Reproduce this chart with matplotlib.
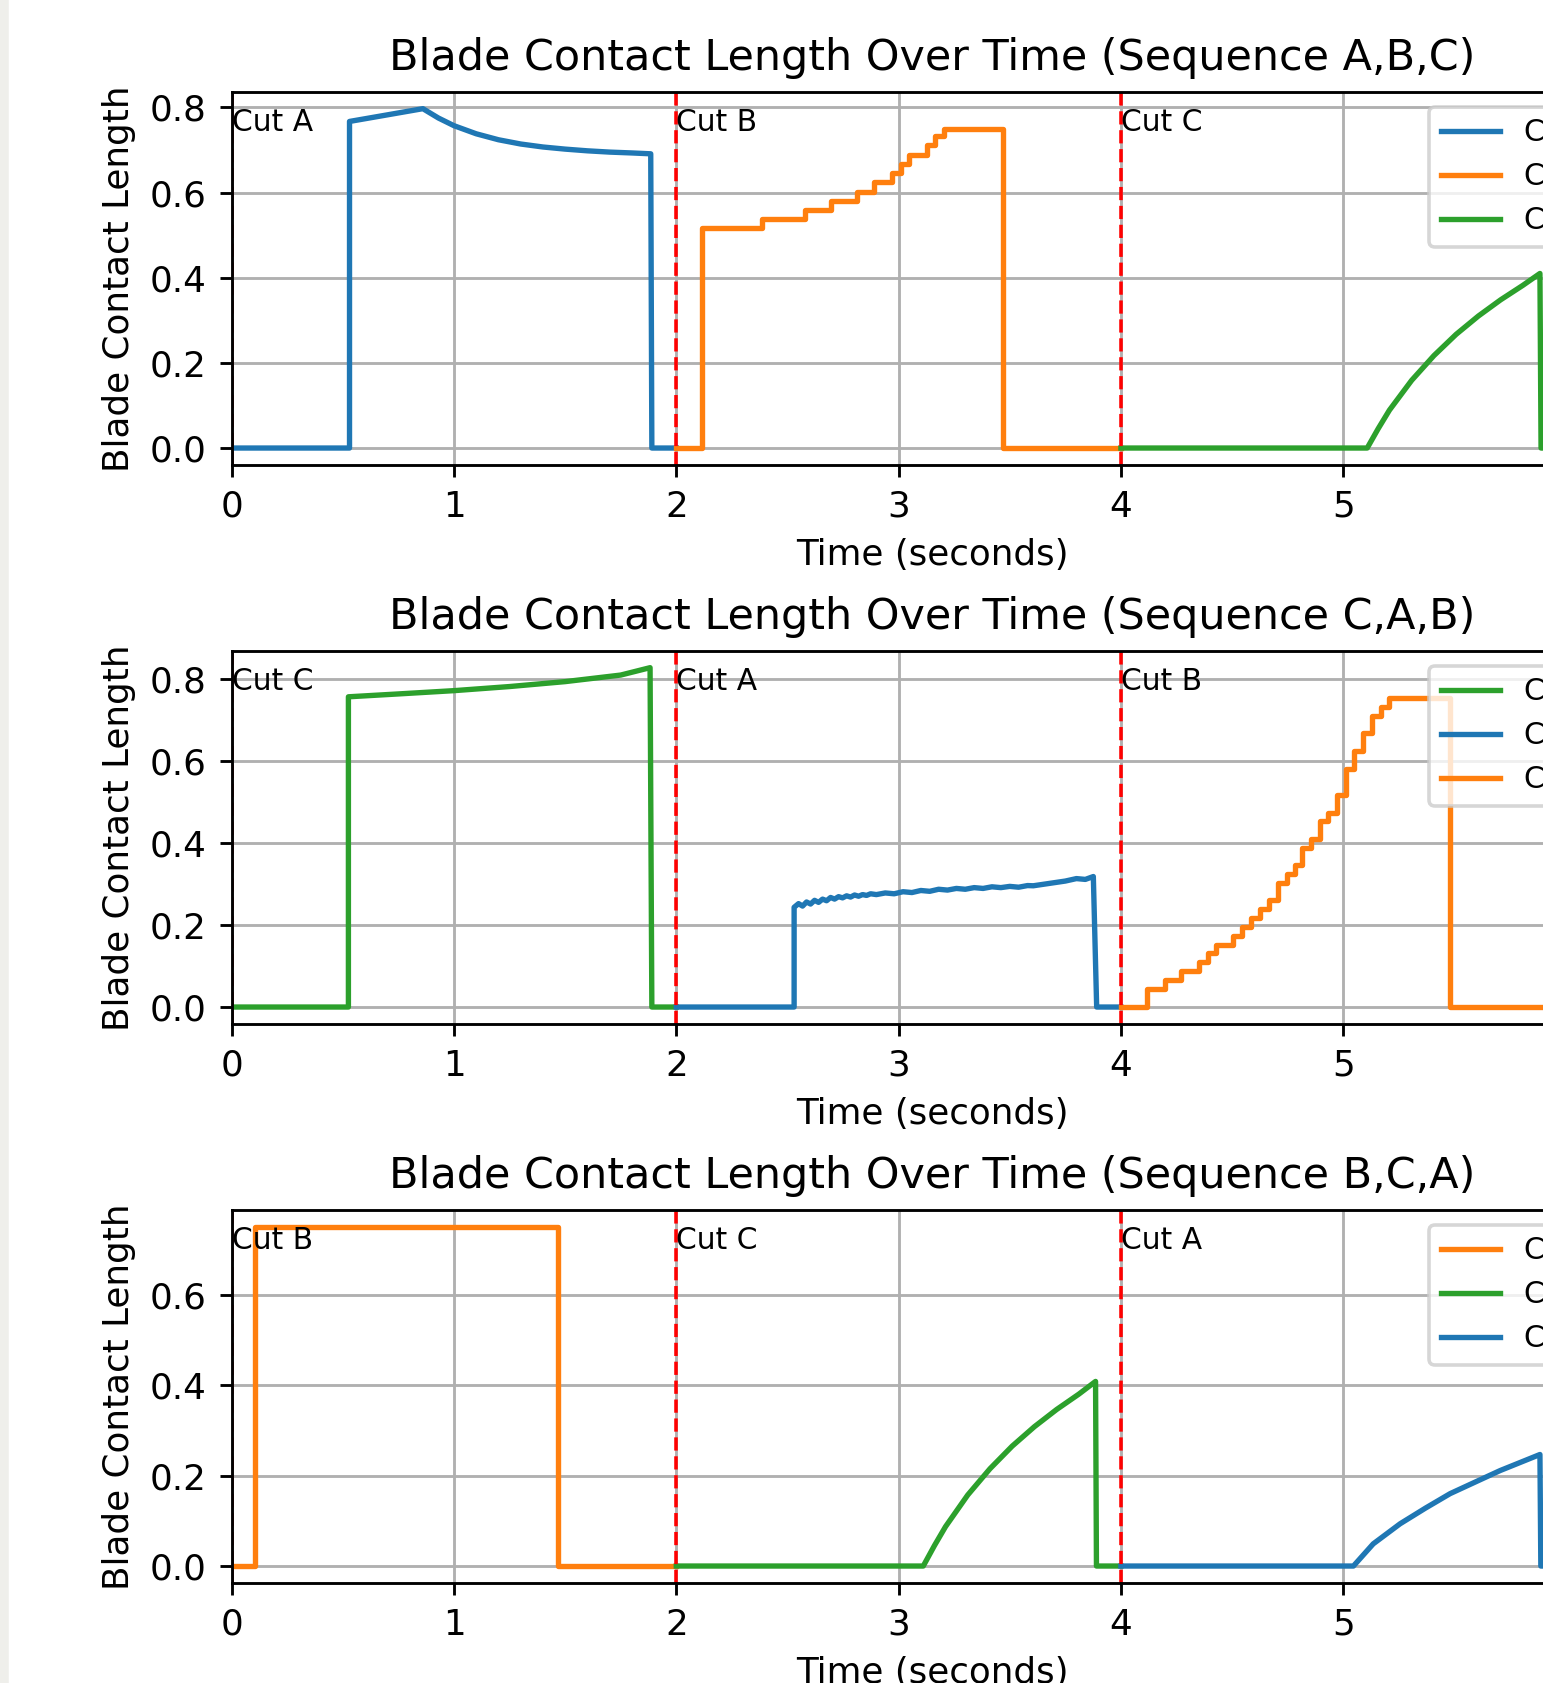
import matplotlib
matplotlib.use('Agg')
import matplotlib.pyplot as plt
from matplotlib.patches import Rectangle

# ---------------- data ----------------
titles = ["Blade Contact Length Over Time (Sequence A,B,C)",
          "Blade Contact Length Over Time (Sequence C,A,B)",
          "Blade Contact Length Over Time (Sequence B,C,A)"]
sequences = [["A", "B", "C"], ["C", "A", "B"], ["B", "C", "A"]]
cut_starts = [0.0, 2.0, 4.0]
x_ticks = [0, 1, 2, 3, 4, 5]
x_max = 6.3

# Panel 1 (A, B, C)
p1_A_t = [0.0, 0.53, 0.53, 0.86, 0.93, 1.0, 1.1, 1.2, 1.3, 1.4, 1.5, 1.6, 1.7, 1.8, 1.885, 1.89, 2.0]
p1_A_y = [0.0, 0.0, 0.767, 0.797, 0.775, 0.757, 0.738, 0.724, 0.714, 0.707, 0.702, 0.698, 0.695, 0.693, 0.691, 0.0, 0.0]
p1_B_t = [2.0, 2.114, 2.384, 2.579, 2.694, 2.814, 2.889, 2.972, 3.009, 3.048, 3.126, 3.164, 3.204, 3.471, 4.0]
p1_B_y = [0.0, 0.516, 0.537, 0.559, 0.581, 0.602, 0.624, 0.646, 0.668, 0.689, 0.711, 0.732, 0.750, 0.0, 0.0]
p1_C_t = [4.0, 5.108, 5.158, 5.208, 5.308, 5.408, 5.508, 5.608, 5.708, 5.808, 5.885, 5.89, 6.3]
p1_C_y = [0.0, 0.0, 0.046, 0.089, 0.159, 0.217, 0.267, 0.310, 0.348, 0.382, 0.410, 0.0, 0.0]

# Panel 2 (C, A, B)
p2_C_t = [0.0, 0.525, 0.525, 0.75, 1.0, 1.25, 1.5, 1.75, 1.882, 1.89, 2.0]
p2_C_y = [0.0, 0.0, 0.756, 0.763, 0.771, 0.781, 0.793, 0.809, 0.827, 0.0, 0.0]
p2_A_t = [2.0, 2.53, 2.53, 2.550, 2.568, 2.586, 2.604, 2.622, 2.640, 2.658, 2.676,
          2.694, 2.712, 2.730, 2.748, 2.766, 2.784, 2.802, 2.820, 2.838, 2.856,
          2.874, 2.90, 2.94, 2.98, 3.02, 3.06, 3.10, 3.14, 3.18, 3.22,
          3.26, 3.30, 3.34, 3.38, 3.42, 3.46, 3.50, 3.54, 3.58, 3.606,
          3.75, 3.80, 3.84, 3.876, 3.891, 4.0]
p2_A_y = [0.0, 0.0, 0.243, 0.252, 0.246, 0.256, 0.251, 0.260, 0.255, 0.263, 0.259,
          0.267, 0.263, 0.269, 0.266, 0.271, 0.268, 0.273, 0.270, 0.274, 0.272,
          0.276, 0.274, 0.278, 0.276, 0.281, 0.279, 0.284, 0.282, 0.287, 0.285,
          0.289, 0.287, 0.291, 0.289, 0.293, 0.291, 0.294, 0.292, 0.296, 0.2955,
          0.307, 0.313, 0.311, 0.318, 0.0, 0.0]
p2_B_t = [4.0, 4.116, 4.198, 4.269, 4.351, 4.390, 4.426, 4.506, 4.546, 4.587,
          4.626, 4.666, 4.708, 4.746, 4.783, 4.816, 4.854, 4.896, 4.933, 4.971,
          5.013, 5.049, 5.091, 5.131, 5.170, 5.207, 5.481, 6.3]
p2_B_y = [0.0, 0.044, 0.0655, 0.0875, 0.109, 0.131, 0.152, 0.174, 0.195, 0.217,
          0.239, 0.260, 0.302, 0.325, 0.346, 0.388, 0.410, 0.453, 0.474, 0.517,
          0.580, 0.624, 0.667, 0.7095, 0.7306, 0.752, 0.0, 0.0]

# Panel 3 (B, C, A)
p3_B_t = [0.0, 0.105, 1.47, 2.0]
p3_B_y = [0.0, 0.75, 0.0, 0.0]
p3_C_t = [2.0, 3.111, 3.161, 3.211, 3.311, 3.411, 3.511, 3.611, 3.711, 3.811, 3.886, 3.89, 4.0]
p3_C_y = [0.0, 0.0, 0.045, 0.087, 0.157, 0.215, 0.265, 0.308, 0.346, 0.380, 0.408, 0.0, 0.0]
p3_A_t = [4.0, 5.046, 5.135, 5.256, 5.37, 5.481, 5.6, 5.706, 5.885, 5.889, 6.3]
p3_A_y = [0.0, 0.0, 0.049, 0.0934, 0.128, 0.160, 0.187, 0.211, 0.2465, 0.0, 0.0]

panel_series = [
    [("A", p1_A_t, p1_A_y, False), ("B", p1_B_t, p1_B_y, True), ("C", p1_C_t, p1_C_y, False)],
    [("C", p2_C_t, p2_C_y, False), ("A", p2_A_t, p2_A_y, False), ("B", p2_B_t, p2_B_y, True)],
    [("B", p3_B_t, p3_B_y, True), ("C", p3_C_t, p3_C_y, False), ("A", p3_A_t, p3_A_y, False)],
]
cut_colors = {"A": "#1f77b4", "B": "#ff7f0e", "C": "#2ca02c"}

# ---------------- figure ----------------
DPI = 257
W, H = 1543, 1683
fig = plt.figure(figsize=(W / DPI, H / DPI), dpi=DPI)
fig.patches.append(Rectangle((0, 0), 7 / W, 1, transform=fig.transFigure,
                             color="#efefeb", zorder=-10))

left_px = 231.7
px_per_unit = 222.3
axes_w_px = x_max * px_per_unit
axes_h_px = 373.3
tops_px = [91.7, 650.7, 1209.7]

for k in range(3):
    top = tops_px[k]
    ax = fig.add_axes([left_px / W, (H - top - axes_h_px) / H, axes_w_px / W, axes_h_px / H])
    maxval = 0
    for cut, t, y, steps in panel_series[k]:
        ax.plot(t, y, color=cut_colors[cut], lw=1.5, label=f"Cut {cut}",
                drawstyle="steps-post" if steps else "default")
        maxval = max(maxval, max(y))
    for i, xs in enumerate(cut_starts):
        ax.axvline(xs, color="red", linestyle="--", lw=1.0)
        ax.text(xs, maxval * 0.933, f"Cut {sequences[k][i]}", fontsize="small")
    ax.set_xlim(0, x_max)
    ax.set_xticks(x_ticks)
    ax.set_title(titles[k])
    ax.set_xlabel("Time (seconds)")
    ax.set_ylabel("Blade Contact Length")
    ax.grid(True)
    ax.legend(loc="upper right", fontsize="small")

fig.savefig("out.png", dpi=DPI)
